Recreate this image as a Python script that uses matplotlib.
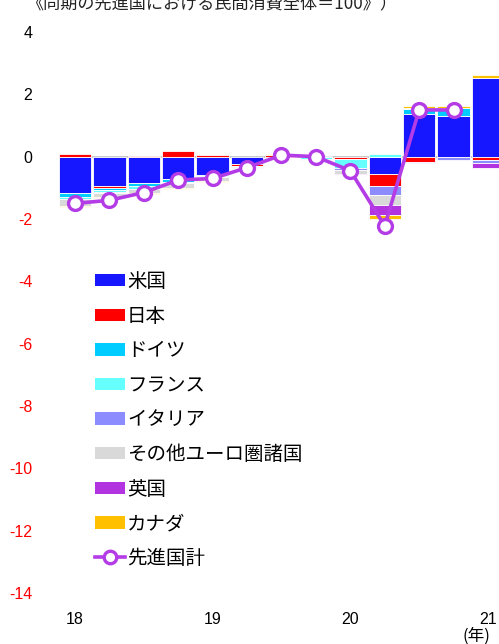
import numpy as np
import matplotlib
matplotlib.use("Agg")
import matplotlib.pyplot as plt
from matplotlib.patches import Patch
from matplotlib.lines import Line2D

plt.rcParams['font.family'] = ['Liberation Sans', 'Noto Sans CJK JP', 'DejaVu Sans']

quarters = ['18Q1', '18Q2', '18Q3', '18Q4', '19Q1', '19Q2', '19Q3', '19Q4',
            '20Q1', '20Q2', '20Q3', '20Q4', '21Q1']
year_labels = ['18', '19', '20', '21']
year_positions = [0, 4, 8, 12]

series_names = ['米国', '日本', 'ドイツ', 'フランス', 'イタリア', 'その他ユーロ圏諸国', '英国', 'カナダ']
us      = [-1.15, -0.95, -0.83, -0.72, -0.60, -0.22, 0.00, 0.02, 0.00, -0.56, 1.37, 1.30, 2.53]
japan   = [0.08, -0.06, 0.03, 0.18, 0.04, -0.07, 0.06, 0.00, -0.08, -0.37, -0.18, 0.00, -0.11]
germany = [-0.16, -0.07, -0.10, -0.08, -0.03, -0.02, 0.00, 0.00, 0.00, 0.00, 0.15, 0.26, 0.00]
france  = [-0.04, -0.05, -0.10, -0.03, -0.02, -0.03, 0.00, -0.08, -0.27, 0.10, 0.05, 0.00, 0.00]
italy   = [-0.02, -0.03, -0.02, -0.02, -0.01, -0.02, 0.00, 0.00, -0.09, -0.30, -0.03, -0.10, -0.08]
other   = [-0.20, -0.12, -0.10, -0.15, -0.12, -0.03, 0.00, -0.02, -0.11, -0.32, 0.00, 0.00, -0.02]
uk      = [-0.01, -0.02, -0.02, -0.02, -0.01, -0.01, 0.00, 0.00, -0.03, -0.31, 0.00, 0.00, -0.16]
canada  = [-0.03, -0.03, -0.03, -0.02, -0.01, -0.01, 0.02, 0.00, -0.02, -0.14, 0.05, 0.05, 0.08]
total   = [-1.50, -1.40, -1.15, -0.75, -0.70, -0.35, 0.05, 0.00, -0.45, -2.22, 1.50, 1.50, np.nan]

colors = ['#1616FF', '#FF0000', '#00CCFF', '#66FFFF', '#8C8CFF', '#D9D9D9', '#B233E0', '#FFC000']
line_color = '#B43CE6'

W, H = 499, 644
fig = plt.figure(figsize=(W / 100, H / 100), dpi=100)
ax_left, ax_right = 45, 499
ax_top, ax_bot = 32, 593
ax = fig.add_axes([ax_left / W, 1 - ax_bot / H, (ax_right - ax_left) / W, (ax_bot - ax_top) / H])

x = np.arange(len(quarters))
px_per_unit = 34.42
xmin = -(75 - ax_left) / px_per_unit
xmax = 12 + (ax_right - 488) / px_per_unit
ax.set_xlim(xmin, xmax)
ax.set_ylim(-14, 4)

ax.hlines(0, -0.47, xmax, color='#BFBFBF', lw=1.2, zorder=0.5)

pos_base = np.zeros(len(x))
neg_base = np.zeros(len(x))
data = [us, japan, germany, france, italy, other, uk, canada]
for vals, col in zip(data, colors):
    v = np.array(vals, dtype=float)
    pos = v > 0
    neg = v < 0
    ax.bar(x[pos], v[pos], bottom=pos_base[pos], width=0.94, color=col,
           edgecolor='white', linewidth=0.6, zorder=2)
    ax.bar(x[neg], v[neg], bottom=neg_base[neg], width=0.94, color=col,
           edgecolor='white', linewidth=0.6, zorder=2)
    pos_base[pos] += v[pos]
    neg_base[neg] += v[neg]

ax.plot(x, total, color=line_color, lw=2.6, marker='o', markersize=10,
        markerfacecolor='white', markeredgecolor=line_color, markeredgewidth=2.4, zorder=4)

for s in ax.spines.values():
    s.set_visible(False)

yt = np.arange(-14, 5, 2)
ax.set_yticks(yt)
ax.set_yticklabels([str(v) for v in yt], fontsize=11.5)
for lab, v in zip(ax.get_yticklabels(), yt):
    lab.set_color('red' if v < 0 else 'black')
ax.tick_params(axis='y', length=0, pad=9)
ax.set_xticks(year_positions)
ax.set_xticklabels(year_labels, fontsize=11.5)
ax.tick_params(axis='x', length=0, pad=14)

handles = [Patch(facecolor=c, edgecolor='none') for c in colors]
handles.append(Line2D([0], [0], color=line_color, lw=2.6, marker='o', markersize=9,
                      markerfacecolor='white', markeredgecolor=line_color, markeredgewidth=2.4))
labels = series_names + ['先進国計']
leg = fig.legend(handles, labels, loc='upper left', bbox_to_anchor=(95 / W, 1 - 271 / H),
                 frameon=False, prop={'family': ['Noto Sans CJK JP', 'DejaVu Sans'], 'size': 14},
                 handlelength=1.55, handleheight=0.6, handletextpad=0.1, labelspacing=0.70,
                 borderpad=0, borderaxespad=0)

fig.text(27 / W, 1 - 4 / H, '《同期の先進国における民間消費全体＝100》）', fontsize=12.3,
         family=['Noto Sans CJK JP', 'DejaVu Sans'], ha='left', va='center', color='#222222')
fig.text(462 / W, 1 - 636 / H, '(年)', fontsize=12,
         family=['Noto Sans CJK JP', 'DejaVu Sans'], ha='left', va='center')

fig.savefig('out.png', dpi=100)
